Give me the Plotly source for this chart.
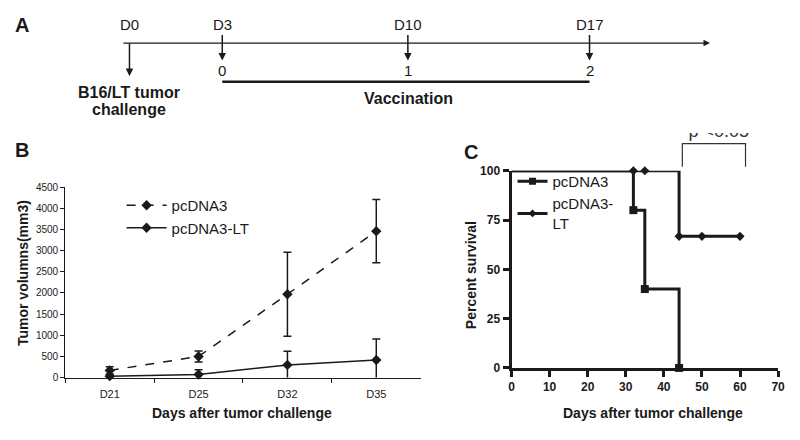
import plotly.graph_objects as go

# The page body has an 8px default margin, so the figure is drawn 8px in from
# the window's corner; size it so the page exactly fills the 800x440 window.
OFF = 8
W, H = 800 - 2 * OFF, 440 - 2 * OFF
def px(x): return (x - OFF) / W
def py(y): return 1 - (y - OFF) / H

# ---------------- data ----------------
# Panel A (schedule)
timeline_days = ["D0", "D3", "D10", "D17"]
vacc_labels = ["0", "1", "2"]
# Panel B (tumor volume)
days_b = ["D21", "D25", "D32", "D35"]
ctrl_mean = [170, 500, 1970, 3460]
ctrl_err = [85, 130, 990, 745]
lt_mean = [35, 75, 300, 415]
lt_err = [30, 110, 320, 495]
# Panel C (survival)
ctrl_surv_t = [0, 32, 35, 44]
ctrl_surv = [100, 80, 40, 0]
ctrl_mark_t = [32, 35, 44]
ctrl_mark = [80, 40, 0]
lt_surv_t = [0, 44, 60]
lt_surv = [100, 66.7, 66.7]
lt_mark_t = [32, 35, 44, 50, 60]
lt_mark = [100, 100, 66.7, 66.7, 66.7]

INK = "#1a1a1a"
FONT = "Liberation Sans, Arial, sans-serif"
NARROW = "Liberation Sans Narrow, Arial Narrow, Liberation Sans, sans-serif"

fig = go.Figure()

# ---------------- Panel B ----------------
fig.add_trace(go.Scatter(
    x=days_b, y=ctrl_mean, mode="lines+markers", name="pcDNA3",
    line=dict(color=INK, width=1.5, dash="dash"),
    marker=dict(symbol="diamond", size=8, color=INK),
    error_y=dict(type="data", array=ctrl_err, color=INK, thickness=1.5, width=4),
    xaxis="x", yaxis="y", cliponaxis=False, legend="legend"))
fig.add_trace(go.Scatter(
    x=days_b, y=lt_mean, mode="lines+markers", name="pcDNA3-LT",
    line=dict(color=INK, width=1.5),
    marker=dict(symbol="diamond", size=8, color=INK),
    error_y=dict(type="data", array=lt_err, color=INK, thickness=1.5, width=4),
    xaxis="x", yaxis="y", cliponaxis=False, legend="legend"))

# ---------------- Panel C ----------------
fig.add_trace(go.Scatter(
    x=lt_surv_t, y=lt_surv, mode="lines", line=dict(color=INK, width=3, shape="hv"),
    xaxis="x2", yaxis="y2", cliponaxis=False, showlegend=False))
fig.add_trace(go.Scatter(
    x=ctrl_surv_t, y=ctrl_surv, mode="lines", line=dict(color=INK, width=3, shape="hv"),
    xaxis="x2", yaxis="y2", cliponaxis=False, showlegend=False))
fig.add_trace(go.Scatter(
    x=ctrl_mark_t, y=ctrl_mark, mode="markers",
    marker=dict(symbol="square", size=8, color=INK),
    xaxis="x2", yaxis="y2", cliponaxis=False, showlegend=False))
fig.add_trace(go.Scatter(
    x=lt_mark_t, y=lt_mark, mode="markers",
    marker=dict(symbol="diamond", size=7, color=INK),
    xaxis="x2", yaxis="y2", cliponaxis=False, showlegend=False))
# legend entries for C
fig.add_trace(go.Scatter(
    x=[None], y=[None], mode="lines+markers", name="pcDNA3",
    line=dict(color=INK, width=3), marker=dict(symbol="square", size=7, color=INK),
    xaxis="x2", yaxis="y2", legend="legend2"))
fig.add_trace(go.Scatter(
    x=[None], y=[None], mode="lines+markers", name="pcDNA3-<br>LT",
    line=dict(color=INK, width=3), marker=dict(symbol="diamond", size=6, color=INK),
    xaxis="x2", yaxis="y2", legend="legend2"))

# p-value text, clipped at its top like the reference
fig.add_trace(go.Scatter(
    x=[0.5], y=[129], mode="text", text=["p <0.05"],
    textfont=dict(family=FONT, size=18, color="#333"),
    textposition="middle center", cliponaxis=True,
    xaxis="x3", yaxis="y3", showlegend=False, hoverinfo="skip"))

shapes = []
annotations = []

def note(x, y, text, size=15, bold=False, family=FONT, angle=0):
    f = dict(family=family, size=size, color=INK)
    if bold:
        f["weight"] = "bold"
    annotations.append(dict(x=px(x), y=py(y), xref="paper", yref="paper", text=text,
                            showarrow=False, xanchor="center", yanchor="middle",
                            textangle=angle, font=f))

def arrow(x, y_tip, y_tail, width=1.5):
    annotations.append(dict(x=px(x), y=py(y_tip), xref="paper", yref="paper",
                            ax=0, ay=y_tail - y_tip, text="", showarrow=True,
                            arrowhead=2, arrowsize=1, arrowwidth=width, arrowcolor=INK))

# ---------------- Panel A (schematic) ----------------
a_pos = [128, 222, 410, 594]
line_y = 37
annotations.append(dict(x=px(716), y=py(line_y), xref="paper", yref="paper",
                        ax=128 - 716, ay=0, text="", showarrow=True,
                        arrowhead=2, arrowsize=1, arrowwidth=1.3, arrowcolor=INK))
for i, lab in enumerate(timeline_days):
    xp = a_pos[i]
    note(xp, 18, lab, size=15, family=NARROW)
    if i == 0:
        arrow(xp, 71, line_y)
    else:
        arrow(xp, 55, 28)
        note(xp, 65, vacc_labels[i - 1], size=15, family=NARROW)
shapes.append(dict(type="line", xref="paper", yref="paper",
                   x0=px(a_pos[1]), x1=px(a_pos[3]), y0=py(77), y1=py(77),
                   line=dict(color=INK, width=2.5)))
note(128, 88, "B16/LT tumor", size=16, bold=True)
note(128, 106, "challenge", size=16, bold=True)
note(411, 94, "Vaccination", size=16, bold=True)

# panel letters
note(19, 18, "A", size=20, bold=True)
note(19, 148, "B", size=20, bold=True)
note(474, 150, "C", size=20, bold=True)

# axis titles
note(20, 275, "Tumor volumns(mm3)", size=14, bold=True, angle=-90)
note(242, 420, "Days after tumor challenge", size=14, bold=True)
note(474, 277, "Percent survival", size=14, bold=True, angle=-90)
note(658, 420, "Days after tumor challenge", size=14, bold=True)

# significance bracket
shapes.append(dict(type="path", xref="paper", yref="paper",
                   path=f"M {px(688)},{py(165)} L {px(688)},{py(141)} L {px(752)},{py(141)} L {px(752)},{py(165)}",
                   line=dict(color="#333", width=1.2)))

fig.update_layout(
    width=W, height=H, margin=dict(l=0, r=0, t=0, b=0),
    paper_bgcolor="white", plot_bgcolor="rgba(0,0,0,0)",
    font=dict(family=FONT, color=INK),
    shapes=shapes, annotations=annotations,
    xaxis=dict(domain=[px(63), px(423)], anchor="y", type="category",
               range=[-0.5, 3.5], showline=True, linecolor=INK, linewidth=1.2,
               ticks="outside", tickson="boundaries", ticklen=4, tickcolor=INK,
               tickfont=dict(family=NARROW, size=11, color=INK),
               ticklabelstandoff=6, showgrid=False, zeroline=False),
    yaxis=dict(domain=[py(383), py(186)], anchor="x", range=[0, 4500], dtick=500,
               showline=True, linecolor=INK, linewidth=1.2, ticks="outside",
               ticklen=4, tickcolor=INK,
               tickfont=dict(family=NARROW, size=10, color=INK),
               showgrid=False, zeroline=False),
    xaxis2=dict(domain=[px(515), px(785)], anchor="y2", range=[0, 70], dtick=10,
                showline=True, linecolor=INK, linewidth=3, ticks="outside",
                ticklen=6, tickwidth=3, tickcolor=INK,
                tickfont=dict(family=FONT, size=12, color=INK, weight="bold"),
                showgrid=False, zeroline=False),
    yaxis2=dict(domain=[py(373), py(169)], anchor="x2", range=[0, 100],
                tickvals=[0, 25, 50, 75, 100],
                showline=True, linecolor=INK, linewidth=3, ticks="outside",
                ticklen=6, tickwidth=3, tickcolor=INK,
                tickfont=dict(family=FONT, size=12, color=INK, weight="bold"),
                showgrid=False, zeroline=False),
    xaxis3=dict(domain=[px(680), px(770)], anchor="y3", range=[0, 1], visible=False),
    yaxis3=dict(domain=[py(160), py(130)], anchor="x3", range=[160, 130], visible=False),
    legend=dict(x=px(120), y=py(188), xanchor="left", yanchor="top", itemwidth=40,
                bgcolor="rgba(0,0,0,0)", font=dict(family=FONT, size=15, color=INK)),
    legend2=dict(x=px(516), y=py(163), xanchor="left", yanchor="top",
                 bgcolor="rgba(0,0,0,0)", font=dict(family=FONT, size=15, color=INK),
                 tracegroupgap=0),
)

fig.write_html("out.html")
